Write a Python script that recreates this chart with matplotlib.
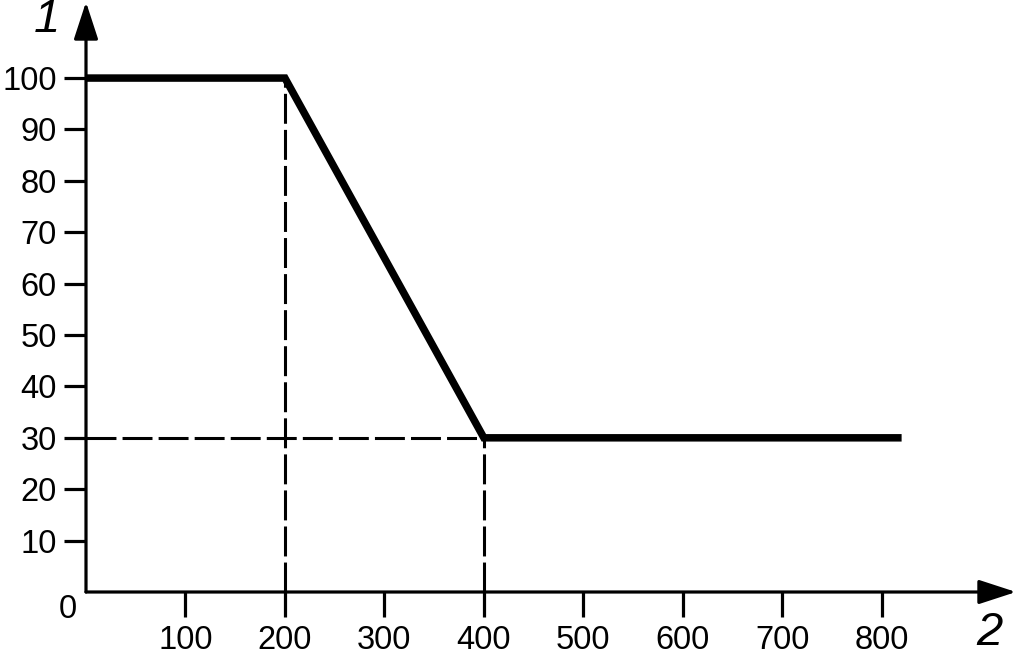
import matplotlib
matplotlib.use("Agg")
import matplotlib.pyplot as plt

plt.rcParams['font.family'] = ['Liberation Sans', 'DejaVu Sans']

# data
line_x = [0, 200, 400, 820]
line_y = [100, 100, 30, 30]
x_ticks = [100, 200, 300, 400, 500, 600, 700, 800]
y_ticks = [10, 20, 30, 40, 50, 60, 70, 80, 90, 100]
guide_x = [200, 400]      # vertical dashed guides
guide_xtop = [100, 30]
guide_y = 30              # horizontal dashed guide
guide_yend = 400

x_max = 935
y_max = 114.8

fig = plt.figure(figsize=(10.17, 6.55), dpi=100)
ax = fig.add_axes([86/1017, 63/655, 930/1017, 590/655])
ax.set_xlim(0, x_max)
ax.set_ylim(0, y_max)

for s in ax.spines.values():
    s.set_visible(False)

# axes with arrow heads
arrow = dict(arrowstyle='-|>,head_length=2.3,head_width=0.75', lw=2.3,
             color='black', shrinkA=0, shrinkB=0)
ax.annotate('', xy=(0, y_max), xytext=(0, 0), arrowprops=arrow,
            annotation_clip=False)
ax.annotate('', xy=(x_max, 0), xytext=(0, 0), arrowprops=arrow,
            annotation_clip=False)

# dashed guides
dash = (0, (9.8, 2.0))
for gx, gt in zip(guide_x, guide_xtop):
    ax.plot([gx, gx], [0, gt], color='black', lw=2.2, linestyle=dash,
            clip_on=False)
ax.plot([0, guide_yend], [guide_y, guide_y], color='black', lw=2.2,
        linestyle=dash, clip_on=False)

# main curve
ax.plot(line_x, line_y, color='black', lw=5.4, solid_joinstyle='miter',
        solid_capstyle='butt', clip_on=False, zorder=5)

ax.set_xticks(x_ticks)
ax.set_yticks(y_ticks)
ax.tick_params(axis='x', direction='out', length=18, width=2.3, pad=6,
               labelsize=23.5)
ax.tick_params(axis='y', direction='out', length=16, width=2.3, pad=5,
               labelsize=23.5)

ax.text(-18, -3.5, '0', fontsize=23.5, ha='center', va='center')
ax.text(-39, 111.3, '1', fontsize=34, style='italic', ha='center', va='center')
ax.text(908, -8, '2', fontsize=34, style='italic', ha='center', va='center')

fig.savefig('out.png', dpi=100)
